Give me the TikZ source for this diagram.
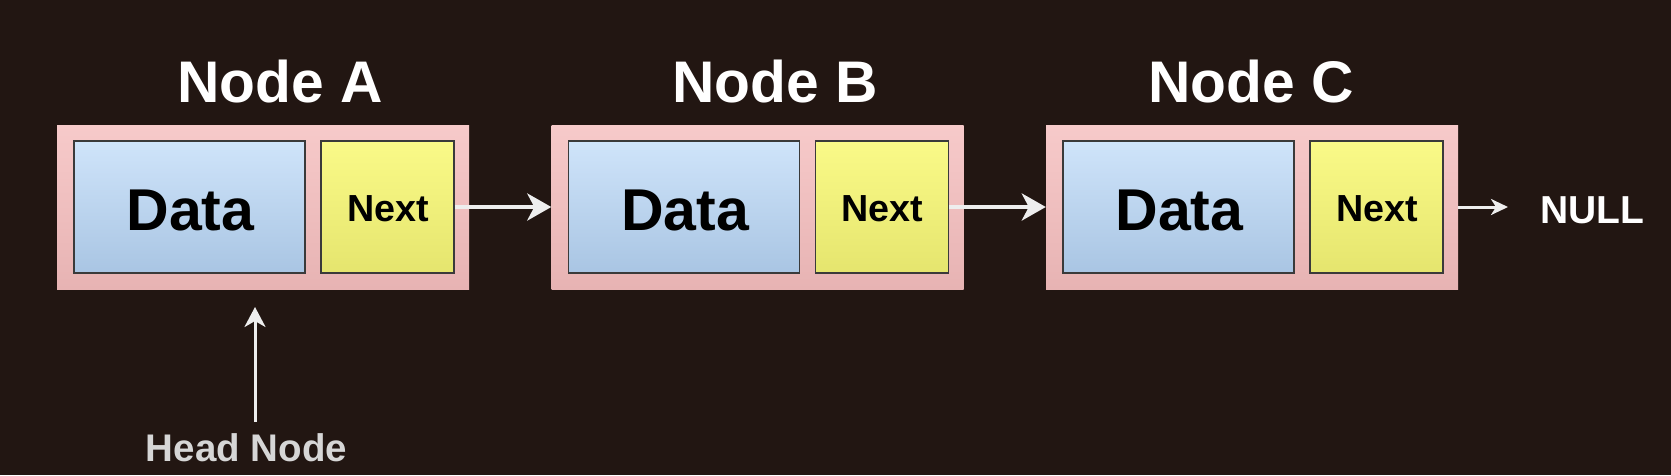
\documentclass[tikz,border=0pt]{standalone}
\usepackage{fontspec}
\setmainfont{Liberation Sans}
\usetikzlibrary{arrows.meta}
\definecolor{bg}{HTML}{221612}
\definecolor{pinkT}{HTML}{F7CACA}
\definecolor{pinkB}{HTML}{E7B3B3}
\definecolor{blueT}{HTML}{CFE4FA}
\definecolor{blueB}{HTML}{A9C5E3}
\definecolor{yelT}{HTML}{FAFA88}
\definecolor{yelB}{HTML}{E5E56E}
\definecolor{edge}{HTML}{3A3A3A}
\definecolor{arrowc}{HTML}{EEEEEE}
\definecolor{headc}{HTML}{D6D6D6}
\tikzset{
  outerbox/.style={rectangle, draw=none, top color=pinkT, bottom color=pinkB,
    minimum width=412pt, minimum height=164pt, inner sep=0pt},
  databox/.style={rectangle, draw=edge, line width=1.5pt, top color=blueT, bottom color=blueB,
    minimum width=231pt, minimum height=132pt, inner sep=0pt},
  nextbox/.style={rectangle, draw=edge, line width=1.5pt, top color=yelT, bottom color=yelB,
    minimum width=133pt, minimum height=132pt, inner sep=0pt},
  datatext/.style={font=\bfseries\fontsize{59}{60}\selectfont, text=black, anchor=base, inner sep=0pt},
  nexttext/.style={font=\bfseries\fontsize{37.7}{38}\selectfont, text=black, anchor=base, inner sep=0pt},
  titletext/.style={font=\bfseries\fontsize{58.7}{59}\selectfont, text=white, anchor=base, inner sep=0pt},
  linkarrow/.style={draw=arrowc, line width=4.2pt, -{Stealth[length=24pt,width=27pt,inset=7pt]}},
  nullarrow/.style={draw=arrowc, line width=3pt, -{Stealth[length=17pt,width=16pt,inset=5pt]}},
  headarrow/.style={draw=arrowc, line width=3pt, -{Stealth[length=20pt,width=21pt,inset=6pt]}},
}
\begin{document}
\begin{tikzpicture}[x=1pt,y=-1pt]
\fill[bg] (0,0) rectangle (1671,475);
\useasboundingbox (0,0) rectangle (1671,475);

% Node boxes
\node[outerbox] (outA) at (263,207) {};
\node[outerbox] (outB) at (757.5,207) {};
\node[outerbox] (outC) at (1252,207) {};

\node[databox] (dataA) at (189.5,207) {};
\node[nextbox] (nextA) at (387.5,207) {};
\node[databox] (dataB) at (684,207) {};
\node[nextbox] (nextB) at (882,207) {};
\node[databox] (dataC) at (1178.5,207) {};
\node[nextbox] (nextC) at (1376.5,207) {};

\node[datatext] (dtA) at (190.5,230) {Data};
\node[datatext] (dtB) at (685,230) {Data};
\node[datatext] (dtC) at (1179.5,230) {Data};
\node[nexttext] (ntA) at (388,221) {Next};
\node[nexttext] (ntB) at (882.5,221) {Next};
\node[nexttext] (ntC) at (1377,221) {Next};

% Titles
\node[titletext] (tA) at (280,102) {Node A};
\node[titletext] (tB) at (775,102) {Node B};
\node[titletext] (tC) at (1251,102) {Node C};

% Links
\draw[linkarrow] (nextA.east) -- (outB.west);
\draw[linkarrow] (nextB.east) -- (outC.west);

% NULL
\node[font=\bfseries\fontsize{39}{39}\selectfont, text=white, anchor=base, inner sep=0pt] (null) at (1592,223) {NULL};
\coordinate (nullend) at (1508,207);
\draw[nullarrow] (outC.east) -- (nullend);

% Head node
\node[font=\bfseries\fontsize{38.5}{39}\selectfont, text=headc, anchor=base, inner sep=0pt] (head) at (246.5,461) {Head Node};
\coordinate (headtail) at (255,422);
\coordinate (headtip) at (255,307);
\draw[headarrow] (headtail) -- (headtip);
\end{tikzpicture}
\end{document}
